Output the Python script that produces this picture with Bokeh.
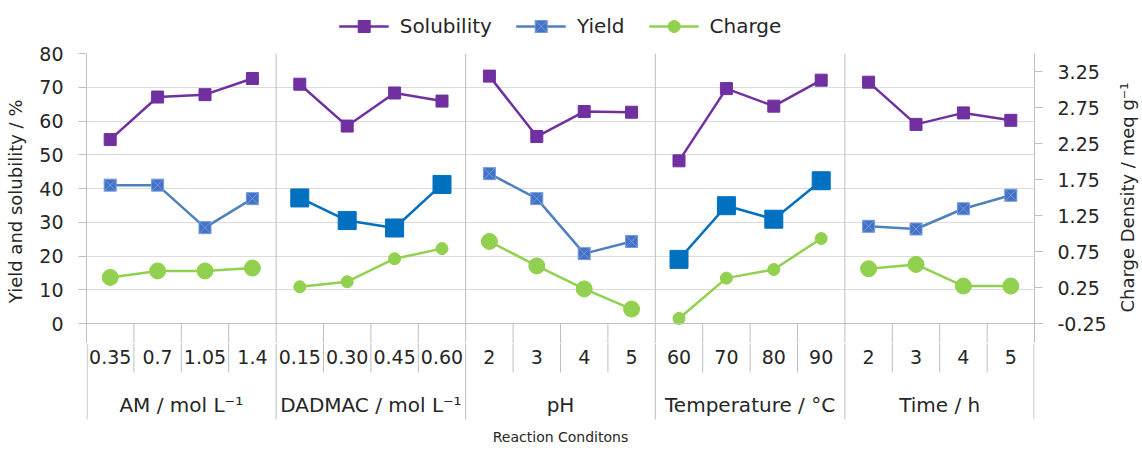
import numpy as np
from bokeh.plotting import figure
from bokeh.layouts import column, row
from bokeh.models import (Range1d, LinearAxis, FixedTicker, Span, Legend,
                          LegendItem, ColumnDataSource)
from bokeh.core.properties import value
from bokeh.embed import file_html
from bokeh.resources import INLINE

# ---------------- data ----------------
groups = ["AM / mol L⁻¹", "DADMAC / mol L⁻¹", "pH", "Temperature / °C", "Time / h"]
tick_labels = ["0.35", "0.7", "1.05", "1.4",
               "0.15", "0.30", "0.45", "0.60",
               "2", "3", "4", "5",
               "60", "70", "80", "90",
               "2", "3", "4", "5"]
solubility = [54.5, 67.1, 67.8, 72.6,
              70.9, 58.5, 68.3, 65.9,
              73.3, 55.4, 62.8, 62.6,
              48.2, 69.6, 64.4, 72.1,
              71.5, 59.0, 62.4, 60.2]
yield_pct = [41.0, 41.0, 28.4, 37.0,
             37.2, 30.5, 28.3, 41.2,
             44.4, 37.0, 20.7, 24.3,
             19.0, 34.9, 30.9, 42.3,
             28.8, 28.0, 34.0, 38.0]
charge = [0.39, 0.48, 0.48, 0.52,
          0.26, 0.33, 0.65, 0.79,
          0.89, 0.55, 0.23, -0.05,
          -0.18, 0.38, 0.50, 0.93,
          0.51, 0.57, 0.27, 0.27]
left_ticks = [0, 10, 20, 30, 40, 50, 60, 70, 80]
right_ticks = [-0.25, 0.25, 0.75, 1.25, 1.75, 2.25, 2.75, 3.25]
right_max = 3.5
series_names = ["Solubility", "Yield", "Charge"]
x_title = "Reaction Conditons"
left_title = "Yield and solubility  / %"
right_title = "Charge Density  / meq g⁻¹"

# ---------------- styling ----------------
FONT = "DejaVu Sans"
TXT = "#262626"
AXC = "#bfbfbf"
GRC = "#dcdcdc"
SOL_C = "#7030A0"
Y_LIGHT_LINE = "#4F81BD"
Y_LIGHT_FILL = "#4472C4"
Y_DARK = "#0070C0"
CH_C = "#92D050"

W = 1140
RT_W = 26                 # strip holding the right-axis title
L_B = 86
FRAME_W = 948
R_B = W - L_B - FRAME_W   # total space right of the frame
LEG_H = 41                # legend strip
TOP_B = 12
FRAME_H = 270             # 0..80 part of the data frame
EXT = 20                  # frame extension below 0 (keeps bottom tick labels whole)
TOP_H = TOP_B + FRAME_H + EXT
HB = 106                  # category table strip
n_per = 4
n_cat = len(tick_labels)
ngrp = len(groups)

l_px = FRAME_H / (left_ticks[-1] - left_ticks[0])
r_px = FRAME_H / (right_max - right_ticks[0])
y_lo = left_ticks[0] - EXT / l_px
r_lo = right_ticks[0] - EXT / r_px

def bare(fig):
    fig.outline_line_color = None
    fig.xgrid.visible = False
    fig.ygrid.visible = False
    return fig

# ---------------- data figure ----------------
p = figure(width=W - RT_W, height=TOP_H, x_range=Range1d(-0.5, n_cat - 0.5),
           y_range=Range1d(y_lo, left_ticks[-1]), output_backend="svg",
           toolbar_location=None, min_border_left=L_B, min_border_right=R_B - RT_W,
           min_border_top=TOP_B, min_border_bottom=0, x_axis_location=None)
p.extra_y_ranges = {"right": Range1d(r_lo, right_max)}
p.outline_line_color = None
p.xgrid.visible = False
p.ygrid.ticker = FixedTicker(ticks=left_ticks[1:])
p.ygrid.grid_line_color = GRC

def style_axis(ax):
    ax.axis_line_color = AXC
    ax.major_tick_line_color = AXC
    ax.major_tick_out = 8
    ax.major_tick_in = 0
    ax.minor_tick_line_color = None
    ax.major_label_text_font = FONT
    ax.major_label_text_font_size = "19px"
    ax.major_label_text_color = TXT
    ax.major_label_standoff = 15
    ax.axis_label_text_font = FONT
    ax.axis_label_text_font_size = "18px"
    ax.axis_label_text_font_style = "normal"
    ax.axis_label_text_color = TXT
    ax.axis_label_standoff = 10

ya = p.yaxis[0]
ya.ticker = FixedTicker(ticks=left_ticks)
style_axis(ya)
ya.axis_label = left_title

ra = LinearAxis(y_range_name="right", ticker=FixedTicker(ticks=right_ticks))
style_axis(ra)
ra.major_label_overrides = {t: f"{t:.2f}" for t in right_ticks}
p.add_layout(ra, "right")

# x-axis line, group separators, and the top part of the sub-category separators
p.add_layout(Span(location=0, dimension="width", line_color=AXC, line_width=1))
for g in range(1, ngrp):
    p.add_layout(Span(location=g * n_per - 0.5, dimension="height",
                      line_color=AXC, line_width=1))
sub_x = [g * n_per + k + 0.5 for g in range(ngrp) for k in range(n_per - 1)]
p.segment(x0=sub_x, y0=[0] * len(sub_x), x1=sub_x, y1=[y_lo] * len(sub_x),
          line_color=AXC, line_width=1)

yield_dark = [False, True, False, True, False]
charge_size = [16, 12, 16, 12, 16]

for g in range(ngrp):
    idx = list(range(g * n_per, (g + 1) * n_per))
    src = ColumnDataSource(dict(x=idx,
                                s=[solubility[i] for i in idx],
                                y=[yield_pct[i] for i in idx],
                                c=[charge[i] for i in idx]))
    p.line("x", "c", source=src, line_color=CH_C, line_width=2.5,
           y_range_name="right")
    p.scatter("x", "c", source=src, marker="circle", size=charge_size[g],
              fill_color=CH_C, line_color=CH_C, y_range_name="right")
    if yield_dark[g]:
        p.line("x", "y", source=src, line_color=Y_DARK, line_width=2.5)
        p.scatter("x", "y", source=src, marker="square", size=18,
                  fill_color=Y_DARK, line_color=Y_DARK)
    else:
        p.line("x", "y", source=src, line_color=Y_LIGHT_LINE, line_width=2.5)
        p.scatter("x", "y", source=src, marker="square_x", size=12,
                  fill_color=Y_LIGHT_FILL, line_color="#7399dd", line_width=1)
    p.line("x", "s", source=src, line_color=SOL_C, line_width=2.5)
    p.scatter("x", "s", source=src, marker="square", size=12,
              fill_color=SOL_C, line_color=SOL_C)

# ---------------- legend strip ----------------
lg = bare(figure(width=W, height=LEG_H, x_range=Range1d(0, 1), y_range=Range1d(0, 1),
                 output_backend="svg", toolbar_location=None,
                 min_border_left=L_B, min_border_right=R_B, min_border_top=10,
                 min_border_bottom=0, x_axis_location=None, y_axis_location=None))
far = dict(x=[-5, -4], y=[-5, -4])
l1 = lg.line(line_color=SOL_C, line_width=2.5, **far)
m1 = lg.scatter(marker="square", size=12, fill_color=SOL_C, line_color=SOL_C, **far)
l2 = lg.line(line_color=Y_LIGHT_LINE, line_width=2.5, **far)
m2 = lg.scatter(marker="square_x", size=12, fill_color=Y_LIGHT_FILL,
                line_color="#7399dd", line_width=1, **far)
l3 = lg.line(line_color=CH_C, line_width=2.5, **far)
m3 = lg.scatter(marker="circle", size=12, fill_color=CH_C, line_color=CH_C, **far)
leg_r = [[l1, m1], [l2, m2], [l3, m3]]
legend = Legend(items=[LegendItem(label=n, renderers=r) for n, r in zip(series_names, leg_r)],
                location="center", orientation="horizontal",
                glyph_width=50, glyph_height=30, label_standoff=11, spacing=24,
                padding=0, margin=0, border_line_color=None,
                background_fill_alpha=0, label_text_font=FONT,
                label_text_font_size="20px", label_text_color=TXT)
lg.add_layout(legend)

# ---------------- right title strip ----------------
rt = bare(figure(width=RT_W, height=TOP_H, x_range=Range1d(0, RT_W),
                 y_range=Range1d(0, TOP_H), output_backend="svg", toolbar_location=None,
                 min_border_left=0, min_border_right=0, min_border_top=0,
                 min_border_bottom=0, x_axis_location=None, y_axis_location=None))
rt.text(x=[RT_W / 2], y=[EXT + FRAME_H / 2], text=[right_title], angle=np.pi / 2,
        text_font=value(FONT), text_font_size="18px", text_color=TXT,
        text_align="center", text_baseline="middle")

# ---------------- category table strip (y = pixels below the x axis) ----------------
b = bare(figure(width=W, height=HB, x_range=Range1d(-0.5, n_cat - 0.5),
                y_range=Range1d(-(EXT + HB), -EXT), output_backend="svg",
                toolbar_location=None, min_border_left=L_B, min_border_right=R_B,
                min_border_top=0, min_border_bottom=0,
                x_axis_location=None, y_axis_location=None))
inset = 0.6 * n_cat / FRAME_W
b.segment(x0=sub_x, y0=[-EXT] * len(sub_x), x1=sub_x, y1=[-49] * len(sub_x),
          line_color=AXC, line_width=1)
grp_x = [g * n_per - 0.5 for g in range(ngrp + 1)]
grp_x[0] += inset
grp_x[-1] -= inset
b.segment(x0=grp_x, y0=[-EXT] * len(grp_x), x1=grp_x, y1=[-96] * len(grp_x),
          line_color=AXC, line_width=1)

b.text(x=list(range(n_cat)), y=[-33] * n_cat, text=tick_labels,
       text_font=value(FONT), text_font_size="19px", text_color=TXT,
       text_align="center", text_baseline="middle")
b.text(x=[g * n_per + (n_per - 1) / 2 for g in range(ngrp)], y=[-81] * ngrp,
       text=groups, text_font=value(FONT), text_font_size="20px", text_color=TXT,
       text_align="center", text_baseline="middle")
b.text(x=[(n_cat - 1) / 2], y=[-113], text=[x_title],
       text_font=value(FONT), text_font_size="14px", text_color=TXT,
       text_align="center", text_baseline="middle")

layout = column(lg, row(p, rt, spacing=0), b, spacing=0)
open("out.html", "w").write(file_html(layout, INLINE))
